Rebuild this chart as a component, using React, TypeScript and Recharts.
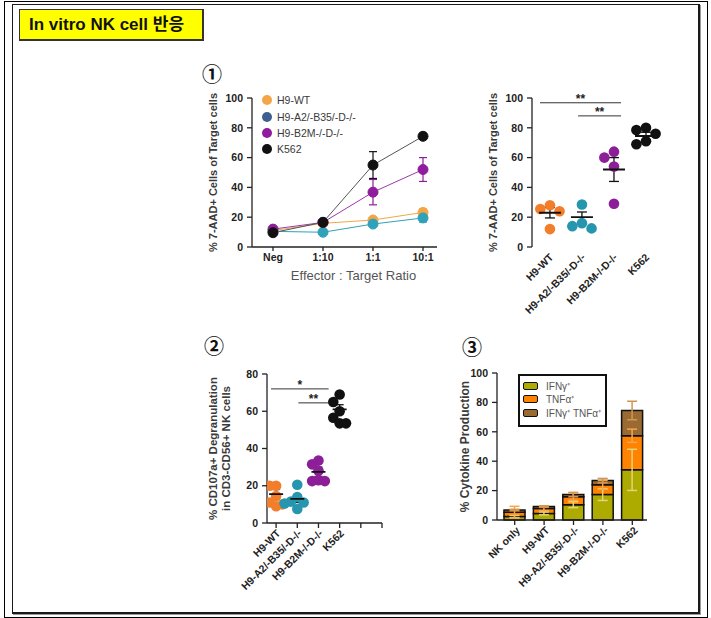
import React from 'react';
import {
  LineChart,
  Line,
  ScatterChart,
  Scatter,
  BarChart,
  Bar,
  XAxis,
  YAxis,
  ErrorBar,
  Legend,
  ReferenceLine,
  Label,
} from 'recharts';

const FONT = '"Liberation Sans", Arial, Helvetica, sans-serif';

// ① killing over E:T ratio
const ratioLabels = ['Neg', '1:10', '1:1', '10:1'];
const wtKill = [11, 15.9, 18.1, 23.2];
const wtKillErr = [0.8, 1, 1.5, 2.5];
const a2Kill = [10.5, 9.9, 15.4, 19.5];
const a2KillErr = [0.8, 1, 1.5, 2.8];
const b2mKill = [12, 16.5, 36.8, 52];
const b2mKillErr = [1, 1, 8.5, 8];
const k562Kill = [9.6, 16.6, 55, 74.3];
const k562KillErr = [1, 1.2, 9, 2];

// ① 10:1, individual donors
const targetLabels = ['H9-WT', 'H9-A2/-B35/-D-/-', 'H9-B2M-/-D-/-', 'K562'];
const deadWt = [28, 25.5, 24, 12];
const deadA2 = [28.5, 16, 14, 12.5];
const deadB2m = [64, 60, 54, 29];
const deadK562 = [80, 78.5, 76, 71, 69];
const deadMean = [23, 20, 52, 74.5];
const deadSem = [3.5, 3.5, 8, 2.5];
const deadBrackets = [
  { x1: -0.31, x2: 2.22, level: 96.8, mark: '**' },
  { x1: 0.88, x2: 2.22, level: 88, mark: '**' },
];

// ② CD107a degranulation
const degWt = [20, 20, 14.5, 11, 10, 9];
const degA2 = [20.5, 14, 11.5, 11, 10.5, 7.5];
const degB2m = [33.5, 31.5, 28, 23, 22.5, 22.5];
const degK562 = [69, 65, 60, 56.5, 53.5, 53.5];
const degMean = [15.5, 13, 27.5, 61];
const degSem = [2.5, 2, 2.5, 2.5];
const degBrackets = [
  { x1: -0.24, x2: 2.48, level: 72, mark: '*' },
  { x1: 1.05, x2: 2.48, level: 64.5, mark: '**' },
];

// ③ cytokine production
const cytoLabels = ['NK only', 'H9-WT', 'H9-A2/-B35/-D-/-', 'H9-B2M-/-D-/-', 'K562'];
const ifng = [2.3, 4.5, 10.4, 17.3, 34.1];
const ifngErr = [0.8, 1, 2, 4, 14];
const tnfa = [2.9, 3.4, 5.5, 6.6, 23.2];
const tnfaErr = [4.1, 1.5, 2.5, 3, 4.5];
const dual = [1.6, 1.2, 1.4, 2.9, 17.2];
const dualErr = [0.5, 0.5, 1.5, 1.5, 6.3];

const ORANGE = '#F27E2C';
const TEAL = '#2596AE';
const PURPLE = '#8C1E98';
const BLACK = '#111';
const groupColors = [ORANGE, TEAL, PURPLE, BLACK];

const killSeries = [
  { key: 'wt', name: 'H9-WT', values: wtKill, err: wtKillErr, color: '#F4A646', line: '#F4A646', legend: '#F4A646' },
  { key: 'a2', name: 'H9-A2/-B35/-D-/-', values: a2Kill, err: a2KillErr, color: '#2FA1B9', line: '#2FA1B9', legend: '#3F5F8E' },
  { key: 'b2m', name: 'H9-B2M-/-D-/-', values: b2mKill, err: b2mKillErr, color: '#8E1C9C', line: '#9A3AA8', legend: '#8E1C9C' },
  { key: 'k562', name: 'K562', values: k562Kill, err: k562KillErr, color: BLACK, line: '#555', legend: BLACK },
];

const killData = ratioLabels.map((_, i) => {
  const row: any = { idx: i };
  killSeries.forEach(s => {
    row[s.key] = s.values[i];
    row[s.key + 'Err'] = s.err[i];
  });
  return row;
});

const cytoSeries = [
  { key: 'ifng', name: 'IFNγ⁺', values: ifng, err: ifngErr, fill: '#AEAB00', errColor: '#E6D27A' },
  { key: 'tnfa', name: 'TNFα⁺', values: tnfa, err: tnfaErr, fill: '#FF8300', errColor: '#F6A64B' },
  { key: 'dual', name: 'IFNγ⁺ TNFα⁺', values: dual, err: dualErr, fill: '#9A6A33', errColor: '#D29552' },
];

const cytoData = cytoLabels.map((name, i) => {
  const row: any = { name };
  cytoSeries.forEach(s => {
    row[s.key] = s.values[i];
    row[s.key + 'Err'] = s.err[i];
  });
  return row;
});

const tickStyle = { fontFamily: FONT, fontSize: 10.5, fontWeight: 'bold', fill: '#222' };

// spread points of one group sideways so they don't sit on top of each other
function swarm(values: number[], group: number, minGap: number, step: number) {
  const placed: { x: number; y: number }[] = [];
  const out: { x: number; y: number }[] = [];
  const order = values.map((_, i) => i).sort((a, b) => values[b] - values[a]);
  order.forEach(i => {
    const v = values[i];
    for (let k = 0; k < 12; k++) {
      const off = k === 0 ? 0 : (k % 2 ? -1 : 1) * Math.ceil(k / 2) * step;
      const hit = placed.some(p => Math.abs(p.x - off) < step * 0.9 && Math.abs(p.y - v) < minGap);
      if (!hit) {
        placed.push({ x: off, y: v });
        out[i] = { x: group + off, y: v };
        break;
      }
    }
  });
  return out;
}

function yTitle(lines: string[], x: number, size: number) {
  return (props: any) => {
    const vb = props.viewBox || {};
    const cy = (vb.y ?? 0) + (vb.height ?? 0) / 2;
    return (
      <text
        x={x}
        y={cy}
        transform={`rotate(-90 ${x} ${cy})`}
        textAnchor="middle"
        style={{ fontFamily: FONT, fontSize: size, fontWeight: 'bold', fill: '#3a3a3a' }}
      >
        {lines.map((l, i) => (
          <tspan key={i} x={x} dy={i === 0 ? 0 : size * 1.1}>
            {l}
          </tspan>
        ))}
      </text>
    );
  };
}

function slantTick(labels: string[], dx: number, dy: number) {
  return (props: any) => {
    const { x, y, payload } = props;
    const v = payload.value;
    const text = typeof v === 'number' ? labels[Math.round(v)] ?? '' : v;
    const ax = x + dx;
    const ay = y + dy;
    return (
      <text x={ax} y={ay} textAnchor="end" transform={`rotate(-45 ${ax} ${ay})`} style={tickStyle}>
        {text}
      </text>
    );
  };
}

function KillLegend() {
  return (
    <div style={{ fontFamily: FONT, fontSize: 10.5, color: '#3a3a3a' }}>
      {killSeries.map(s => (
        <div key={s.key} style={{ display: 'flex', alignItems: 'center', height: 16.4 }}>
          <span
            style={{ width: 10, height: 10, borderRadius: '50%', background: s.legend, marginRight: 5, display: 'inline-block' }}
          />
          {s.name}
        </div>
      ))}
    </div>
  );
}

function CytoLegend() {
  return (
    <div
      style={{
        fontFamily: FONT,
        fontSize: 10,
        color: '#555',
        border: '2px solid #111',
        boxSizing: 'border-box',
        width: 89,
        height: 53,
        padding: '3px 0 0 3px',
        background: '#fff',
      }}
    >
      {cytoSeries.map(s => (
        <div key={s.key} style={{ display: 'flex', alignItems: 'center', height: 13.5 }}>
          <span
            style={{
              width: 15,
              height: 8,
              background: s.fill,
              border: '1.5px solid #111',
              borderRadius: 2,
              boxSizing: 'border-box',
              marginRight: 8,
              display: 'inline-block',
            }}
          />
          {s.name}
        </div>
      ))}
    </div>
  );
}

interface DotPanelProps {
  groups: number[][];
  mean: number[];
  sem: number[];
  brackets: { x1: number; x2: number; level: number; mark: string }[];
  yMax: number;
  yTicks: number[];
  xDomain: [number, number];
  xTicks: number[];
  showAxis: boolean;
  width: number;
  height: number;
  margin: { top: number; right: number; left: number; bottom: number };
  yWidth: number;
  xHeight: number;
  title: string[];
  titleX: number;
  titleSize: number;
  minGap: number;
  step: number;
  meanHalf: number;
  capHalf: number;
  tickDx: number;
  tickDy: number;
}

function DotPanel(p: DotPanelProps) {
  const means = p.mean.map((m, i) => ({ x: i, y: m, err: p.sem[i] }));
  return (
    <ScatterChart width={p.width} height={p.height} margin={p.margin}>
      <XAxis
        type="number"
        dataKey="x"
        domain={p.xDomain}
        ticks={p.xTicks}
        interval={0}
        allowDataOverflow
        axisLine={p.showAxis ? { stroke: '#222', strokeWidth: 1.3 } : false}
        tickLine={p.showAxis ? { stroke: '#222', strokeWidth: 1.3 } : false}
        tickSize={5}
        tickMargin={2}
        height={p.xHeight}
        tick={slantTick(targetLabels, p.tickDx, p.tickDy)}
      />
      <YAxis
        type="number"
        dataKey="y"
        domain={[0, p.yMax]}
        ticks={p.yTicks}
        interval={0}
        width={p.yWidth}
        axisLine={{ stroke: '#222', strokeWidth: 1.3 }}
        tickLine={{ stroke: '#222', strokeWidth: 1.3 }}
        tickSize={5}
        tickMargin={4}
        tick={tickStyle}
      >
        <Label content={yTitle(p.title, p.titleX, p.titleSize)} />
      </YAxis>
      {p.brackets.map((b, i) => (
        <ReferenceLine
          key={i}
          segment={[
            { x: b.x1, y: b.level },
            { x: b.x2, y: b.level },
          ]}
          stroke="#333"
          strokeWidth={1}
          ifOverflow="visible"
          label={{ value: b.mark, position: 'top', offset: 0, fill: '#222', fontSize: 12, fontWeight: 'bold', fontFamily: FONT }}
        />
      ))}
      {p.groups.map((vals, g) => (
        <Scatter
          key={g}
          data={swarm(vals, g, p.minGap, p.step)}
          isAnimationActive={false}
          shape={(s: any) => <circle cx={s.cx} cy={s.cy} r={5.3} fill={groupColors[g]} />}
        />
      ))}
      <Scatter
        data={means}
        isAnimationActive={false}
        shape={(s: any) => (
          <line x1={s.cx - p.meanHalf} x2={s.cx + p.meanHalf} y1={s.cy} y2={s.cy} stroke="#111" strokeWidth={1.8} />
        )}
      >
        <ErrorBar dataKey="err" direction="y" width={p.capHalf} stroke="#111" strokeWidth={1.3} />
      </Scatter>
    </ScatterChart>
  );
}

function circled(ch: string, left: number, top: number) {
  return (
    <div
      style={{
        position: 'absolute',
        left,
        top,
        fontFamily: '"Noto Sans CJK KR", "DejaVu Sans", sans-serif',
        fontSize: 20,
        fontWeight: 'bold',
        lineHeight: '20px',
        color: '#111',
      }}
    >
      {ch}
    </div>
  );
}

export default function App() {
  return (
    <div
      style={{
        position: 'absolute',
        left: 0,
        top: 0,
        width: 711,
        height: 618,
        background: '#fff',
        overflow: 'hidden',
        fontFamily: FONT,
      }}
    >
      <div
        style={{ position: 'absolute', left: 4, top: 1, width: 704, height: 617, border: '1px solid #000', boxSizing: 'border-box' }}
      />
      <div
        style={{
          position: 'absolute',
          left: 12,
          top: 4,
          width: 688,
          height: 610,
          borderStyle: 'solid',
          borderColor: '#1a1a1a',
          borderWidth: '1px 2px 2px 1px',
          boxSizing: 'border-box',
          boxShadow: '1px 1px 0 #999',
        }}
      />
      <div
        style={{
          position: 'absolute',
          left: 19,
          top: 9,
          width: 185,
          height: 32,
          background: '#FFFF00',
          borderStyle: 'solid',
          borderColor: '#333',
          borderWidth: '1px 2px 2px 1px',
          boxSizing: 'border-box',
          fontFamily: `${FONT}, "Noto Sans CJK KR"`,
          fontWeight: 'bold',
          fontSize: 17,
          lineHeight: '29px',
          paddingLeft: 9,
          color: '#111',
          whiteSpace: 'nowrap',
        }}
      >
        In vitro NK cell 반응
      </div>

      {circled('①', 202, 64)}
      {circled('②', 204, 336)}
      {circled('③', 462, 337)}

      {/* ① E:T titration */}
      <div style={{ position: 'absolute', left: 190, top: 85 }}>
        <LineChart width={255} height={200} data={killData} margin={{ top: 13, right: 8, left: 15, bottom: 0 }}>
          <XAxis
            type="number"
            dataKey="idx"
            domain={[-0.42, 3.28]}
            ticks={[0, 1, 2, 3]}
            interval={0}
            allowDataOverflow
            tickFormatter={(v: number) => ratioLabels[v]}
            axisLine={{ stroke: '#222', strokeWidth: 1.3 }}
            tickLine={{ stroke: '#222', strokeWidth: 1.3 }}
            tickSize={4}
            tickMargin={3}
            height={38}
            tick={tickStyle}
          >
            <Label
              content={(props: any) => {
                const vb = props.viewBox || {};
                return (
                  <text
                    x={(vb.x ?? 0) + (vb.width ?? 0) / 2 + 9}
                    y={(vb.y ?? 0) + 33}
                    textAnchor="middle"
                    style={{ fontFamily: FONT, fontSize: 13, fill: '#555' }}
                  >
                    Effector : Target Ratio
                  </text>
                );
              }}
            />
          </XAxis>
          <YAxis
            type="number"
            domain={[0, 100]}
            ticks={[0, 20, 40, 60, 80, 100]}
            interval={0}
            width={47}
            axisLine={{ stroke: '#222', strokeWidth: 1.3 }}
            tickLine={{ stroke: '#222', strokeWidth: 1.3 }}
            tickSize={5}
            tickMargin={4}
            tick={tickStyle}
          >
            <Label content={yTitle(['% 7-AAD+  Cells of Target cells'], 27, 11)} />
          </YAxis>
          {killSeries.map(s => (
            <Line
              key={s.key}
              dataKey={s.key}
              name={s.name}
              stroke={s.line}
              strokeWidth={1}
              dot={{ r: 5, fill: s.color, stroke: s.color, strokeWidth: 1 }}
              isAnimationActive={false}
            >
              <ErrorBar dataKey={s.key + 'Err'} direction="y" width={4} stroke={s.color} strokeWidth={1.2} />
            </Line>
          ))}
          <Legend
            content={() => <KillLegend />}
            layout="vertical"
            align="center"
            verticalAlign="middle"
            wrapperStyle={{ left: 72, top: 7, width: 150 }}
          />
        </LineChart>
      </div>

      {/* ① 10:1 donors */}
      <div style={{ position: 'absolute', left: 450, top: 85 }}>
        <DotPanel
          groups={[deadWt, deadA2, deadB2m, deadK562]}
          mean={deadMean}
          sem={deadSem}
          brackets={deadBrackets}
          yMax={100}
          yTicks={[0, 20, 40, 60, 80, 100]}
          xDomain={[-0.56, 3.5]}
          xTicks={[0, 1, 2, 3]}
          showAxis={false}
          width={230}
          height={235}
          margin={{ top: 13, right: 18, left: 20, bottom: 0 }}
          yWidth={62}
          xHeight={73}
          title={['% 7-AAD+  Cells of Target cells']}
          titleX={47}
          titleSize={11}
          minGap={4.5}
          step={0.3}
          meanHalf={11}
          capHalf={5}
          tickDx={4}
          tickDy={4}
        />
      </div>

      {/* ② CD107a */}
      <div style={{ position: 'absolute', left: 190, top: 360 }}>
        <DotPanel
          groups={[degWt, degA2, degB2m, degK562]}
          mean={degMean}
          sem={degSem}
          brackets={degBrackets}
          yMax={80}
          yTicks={[0, 20, 40, 60, 80]}
          xDomain={[-0.43, 5]}
          xTicks={[0, 1, 2, 3, 4, 5]}
          showAxis={true}
          width={215}
          height={250}
          margin={{ top: 14, right: 23, left: 15, bottom: 0 }}
          yWidth={62}
          xHeight={87}
          title={['% CD107a+ Degranulation', 'in CD3-CD56+ NK cells']}
          titleX={27}
          titleSize={11.5}
          minGap={5}
          step={0.3}
          meanHalf={7}
          capHalf={4}
          tickDx={5}
          tickDy={4}
        />
      </div>

      {/* ③ cytokines */}
      <div style={{ position: 'absolute', left: 440, top: 360 }}>
        <BarChart width={230} height={250} data={cytoData} margin={{ top: 13, right: 23, left: 10, bottom: 0 }} barSize={21}>
          <XAxis
            dataKey="name"
            interval={0}
            padding={{ left: 3, right: 0 }}
            axisLine={{ stroke: '#222', strokeWidth: 1.3 }}
            tickLine={{ stroke: '#222', strokeWidth: 1.3 }}
            tickSize={5}
            tickMargin={2}
            height={90}
            tick={slantTick(cytoLabels, 6, 4)}
          />
          <YAxis
            type="number"
            domain={[0, 100]}
            ticks={[0, 20, 40, 60, 80, 100]}
            interval={0}
            width={47}
            axisLine={{ stroke: '#222', strokeWidth: 1.3 }}
            tickLine={{ stroke: '#222', strokeWidth: 1.3 }}
            tickSize={5}
            tickMargin={4}
            tick={tickStyle}
          >
            <Label content={yTitle(['% Cytokine Production'], 29, 12)} />
          </YAxis>
          {cytoSeries.map(s => (
            <Bar
              key={s.key}
              dataKey={s.key}
              name={s.name}
              stackId="c"
              fill={s.fill}
              stroke="#111"
              strokeWidth={1.5}
              isAnimationActive={false}
            >
              <ErrorBar dataKey={s.key + 'Err'} direction="y" width={5} stroke={s.errColor} strokeWidth={1.5} />
            </Bar>
          ))}
          <Legend
            content={() => <CytoLegend />}
            layout="vertical"
            align="center"
            verticalAlign="middle"
            wrapperStyle={{ left: 78, top: 14, width: 89 }}
          />
        </BarChart>
      </div>
    </div>
  );
}
